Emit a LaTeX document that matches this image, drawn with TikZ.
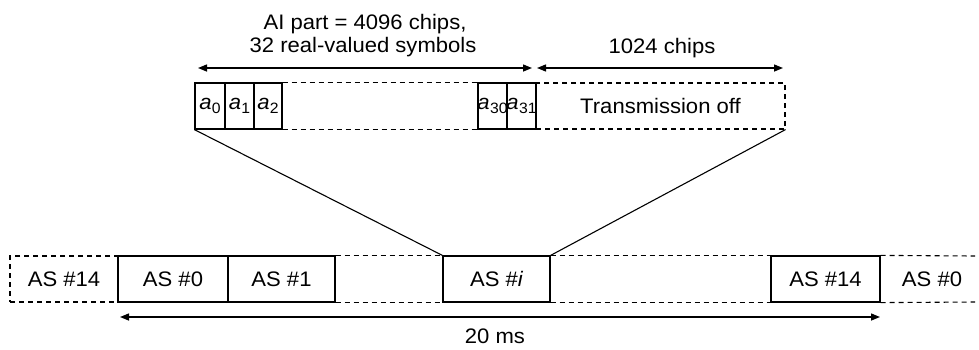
\documentclass[tikz,border=0pt]{standalone}
\usepackage{fontspec}
\setmainfont{Liberation Sans}[FakeStretch=1.05]
\usetikzlibrary{arrows.meta}
\newcommand{\symb}[1]{{\itshape a}\kern0.3pt\raisebox{-4pt}{\fontsize{15}{15}\selectfont #1}}
\begin{document}
\begin{tikzpicture}[x=1pt,y=-1pt,
  font=\fontsize{21}{25}\selectfont,
  cell/.style={draw, line width=1.2pt, inner sep=0pt, minimum height=46pt},
  dcell/.style={draw, line width=1.1pt, dash pattern=on 5pt off 4pt, inner sep=0pt, minimum height=46pt},
  dsh/.style={line width=1.1pt, dash pattern=on 5pt off 4pt},
  link/.style={line width=1.1pt},
  dim/.style={line width=1.4pt, {Triangle[length=9pt,width=7pt]}-{Triangle[length=9pt,width=7pt]}},
  lbl/.style={inner sep=0pt, anchor=base}]
\useasboundingbox (0,0) rectangle (979,349);

% ---- top row ----
\node[dcell, minimum width=249pt] (toff) at (660.5,106) {Transmission off};
\node[cell, minimum width=30pt] (a0) at (210,106) {\symb{0}};
\node[cell, minimum width=29pt] (a1) at (239.5,106) {\symb{1}};
\node[cell, minimum width=28pt] (a2) at (268,106) {\symb{2}};
\node[cell, minimum width=29pt] (a30) at (492.5,106) {\makebox[0pt]{\symb{30}}};
\node[cell, minimum width=29pt] (a31) at (521.5,106) {\makebox[0pt]{\symb{31}}};
\draw[dsh] (a2.north east) -- (a30.north west);
\draw[dsh] (a2.south east) -- (a30.south west);

% ---- bottom row ----
\node[dcell, minimum width=108pt] (s14l) at (64,279) {AS \#14};
\node[cell, minimum width=110pt] (s0) at (173,279) {AS \#0};
\node[cell, minimum width=107pt] (s1) at (281.5,279) {AS \#1};
\node[cell, minimum width=107pt] (si) at (496.5,279) {AS \#{\itshape i}};
\node[cell, minimum width=109pt] (s14r) at (825.5,279) {AS \#14};
\node (s0r) at (932,279) {AS \#0};
\coordinate (rt) at (975,256);
\coordinate (rb) at (975,302);
\draw[dsh] (s1.north east) -- (si.north west);
\draw[dsh] (s1.south east) -- (si.south west);
\draw[dsh] (si.north east) -- (s14r.north west);
\draw[dsh] (si.south east) -- (s14r.south west);
\draw[dsh] (s14r.north east) -- (rt);
\draw[dsh] (s14r.south east) -- (rb);

% ---- zoom lines ----
\draw[link] (a0.south west) -- (si.north west);
\draw[link] (toff.south east) -- (si.north east);

% ---- dimension arrows ----
\coordinate (d1a) at (198,68);
\coordinate (d1b) at (532,68);
\coordinate (d2a) at (537,68);
\coordinate (d2b) at (783,68);
\coordinate (d3a) at (120,317);
\coordinate (d3b) at (880,317);
\draw[dim] (d1a) -- (d1b);
\draw[dim] (d2a) -- (d2b);
\draw[dim] (d3a) -- (d3b);

\node[lbl] (l1) at (365,29) {AI part = 4096 chips,};
\node[lbl] (l2) at (363,52) {32 real-valued symbols};
\node[lbl] (l3) at (662,53) {1024 chips};
\node[lbl] (l4) at (495,343) {20 ms};
\end{tikzpicture}
\end{document}
